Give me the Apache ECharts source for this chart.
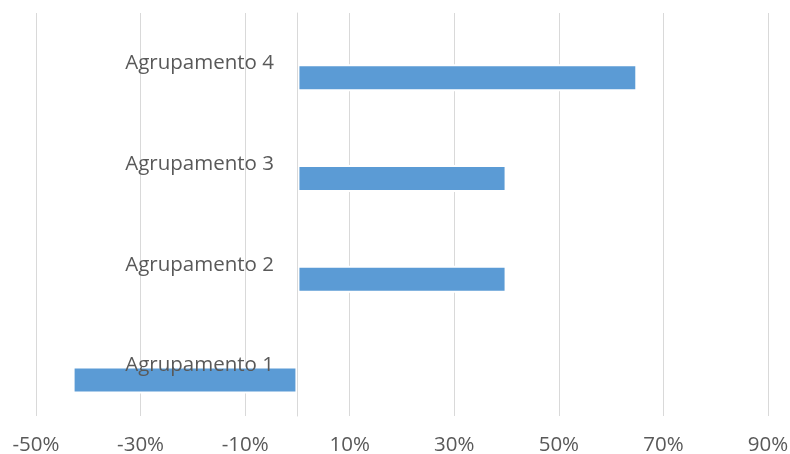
<!DOCTYPE html>
<html>
<head>
<meta charset="utf-8">
<script src="https://cdn.jsdelivr.net/npm/echarts@6/dist/echarts.min.js"></script>
<style>
  html, body { margin: 0; padding: 0; background: #ffffff; }
  #chart { width: 790px; height: 454px; }
</style>
</head>
<body>
<div id="chart"></div>
<script>
// Groups, bottom to top
var categories = ['Agrupamento 1', 'Agrupamento 2', 'Agrupamento 3', 'Agrupamento 4'];
// Change per group, in percent
var values = [-43, 40, 40, 65];
// Companion series with no values; it only takes the upper slot of each band
var emptyValues = [null, null, null, null];
// Percentage scale
var axisMin = -50;
var axisMax = 90;
var axisStep = 20;

var textColor = '#595959';
var gridColor = '#d9d9d9';
var font = '"Open Sans", sans-serif';

var chart = echarts.init(document.getElementById('chart'), null, { renderer: 'canvas' });

chart.setOption({
  animation: false,
  backgroundColor: '#ffffff',
  grid: { left: 36, right: 22, top: 13, bottom: 38, containLabel: false, outerBoundsMode: 'none' },
  xAxis: {
    type: 'value',
    min: axisMin,
    max: axisMax,
    interval: axisStep,
    axisLine: { show: false },
    axisTick: { show: false },
    splitLine: { show: true, lineStyle: { color: gridColor, width: 1 } },
    axisLabel: {
      color: textColor,
      fontFamily: font,
      fontSize: 20.5,
      margin: 19,
      formatter: function (v) { return v + '%'; }
    }
  },
  yAxis: {
    type: 'category',
    data: categories,
    z: 5,
    axisLine: { show: true, onZero: true, lineStyle: { color: gridColor, width: 1 } },
    axisTick: { show: false },
    splitLine: { show: false },
    axisLabel: {
      color: textColor,
      fontFamily: font,
      fontSize: 20.5,
      // labels sit just left of the zero line, over the plot
      margin: -238
    }
  },
  series: [
    {
      name: 'Referência',
      type: 'bar',
      data: emptyValues,
      barWidth: 27,
      barGap: '6%'
    },
    {
      name: 'Variação',
      type: 'bar',
      data: values,
      barWidth: 27,
      barGap: '6%',
      itemStyle: { color: '#5b9bd5', borderColor: '#ffffff', borderWidth: 2 }
    }
  ]
});
</script>
</body>
</html>
